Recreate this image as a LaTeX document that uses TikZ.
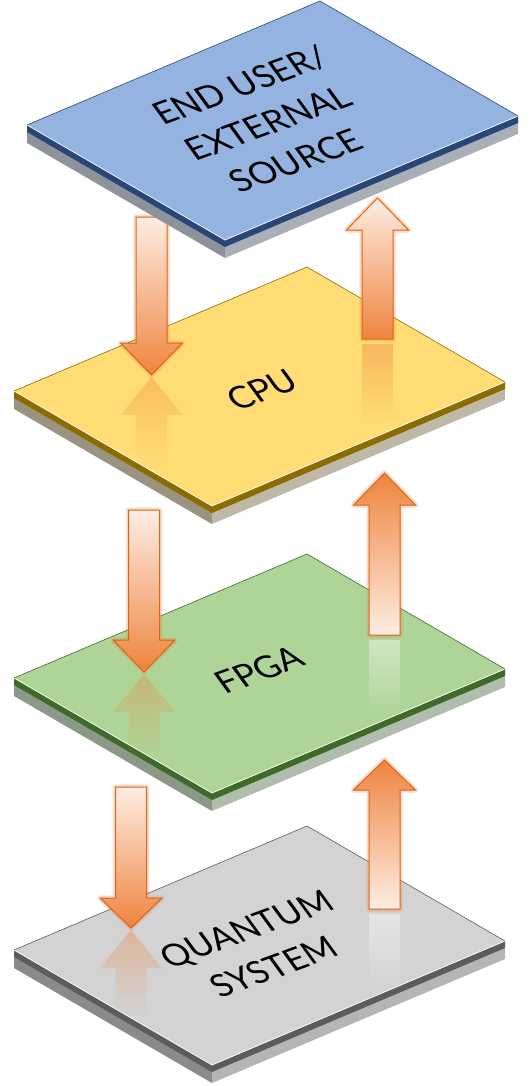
\documentclass[tikz,border=0pt]{standalone}
\usepackage{fontspec}
\setmainfont{Lato}
\usepackage{tikz}
\usetikzlibrary{positioning,shadings,fadings}

\definecolor{arrowdark}{HTML}{EF843F}
\definecolor{arrowlight}{HTML}{FDEDE3}
\definecolor{arrowline}{HTML}{D5661F}
\definecolor{bluetop}{HTML}{95B3E0}
\definecolor{blueband}{HTML}{284678}
\definecolor{bluesideL}{HTML}{8D929B}
\definecolor{bluesideR}{HTML}{AAAFB7}
\definecolor{cputop}{HTML}{FFDD74}
\definecolor{cpuband}{HTML}{8C6B00}
\definecolor{cpusideL}{HTML}{99937F}
\definecolor{cpusideR}{HTML}{BEB8A6}
\definecolor{fpgatop}{HTML}{AED597}
\definecolor{fpgaband}{HTML}{3F6A2A}
\definecolor{fpgasideL}{HTML}{8C9888}
\definecolor{fpgasideR}{HTML}{B0BCAC}
\definecolor{qtop}{HTML}{D3D3D3}
\definecolor{qband}{HTML}{5C5C5C}
\definecolor{qsideL}{HTML}{8A8A8A}
\definecolor{qsideR}{HTML}{B5B5B5}

\tikzfading[name=reflectfade, top color=transparent!40, bottom color=transparent!100]

\tikzstyle{slabtext}=[font=\fontsize{34}{47}\selectfont, align=center, text=black,
        inner sep=0pt, cm={0.94,0.342,-0.588,0.809,(0,0)}]
\tikzstyle{arrowglow}=[draw=arrowdark, draw opacity=0.3, line width=5pt, line join=round]
\tikzstyle{arrowbody}=[draw=arrowline, line width=1pt, line join=miter]

% one layer: name, top corner, top colour, edge colour, side colours
\newcommand{\slab}[6]{%
  \begin{scope}[shift={#2}]
    \fill[#5] (-293,124) -- (-95,239) -- (-95,257) -- (-293,142) -- cycle;
    \fill[#6] (-95,239) -- (198,115) -- (198,133) -- (-95,257) -- cycle;
    \fill[#4] (-293,124) -- (-95,239) -- (198,115) -- (198,122) -- (-95,246) -- (-293,131) -- cycle;
    \fill[#3] (0,0) -- (-293,124) -- (-95,239) -- (198,115) -- cycle;
    \draw[white, line width=0.7pt] (-293,124) -- (-95,239) -- (198,115);
    \draw[#4, line width=0.6pt] (-293,124) -- (0,0) -- (198,115);
    \coordinate (#1) at (0,0);
  \end{scope}}

% block arrow: centre x, tail y, head base y, tip y, top colour, bottom colour
\newcommand{\blockarrow}[6]{%
  \draw[arrowglow] (#1-15.5,#2) -- (#1-15.5,#3) -- (#1-31,#3) -- (#1,#4) -- (#1+31,#3) -- (#1+15.5,#3) -- (#1+15.5,#2) -- cycle;
  \draw[arrowbody, top color=#5, bottom color=#6] (#1-15.5,#2) -- (#1-15.5,#3) -- (#1-31,#3) -- (#1,#4) -- (#1+31,#3) -- (#1+15.5,#3) -- (#1+15.5,#2) -- cycle;}

% mirror image under a down arrow tip
\newcommand{\tipreflect}[2]{%
  \fill[arrowdark, fill opacity=0.6, path fading=reflectfade] (#1,#2+2) -- (#1+31,#2+40) -- (#1+15.5,#2+40) -- (#1+15.5,#2+88) -- (#1-15.5,#2+88) -- (#1-15.5,#2+40) -- (#1-31,#2+40) -- cycle;}

% mirror image under an up arrow tail
\newcommand{\tailreflect}[3]{%
  \fill[#3, fill opacity=0.7, path fading=reflectfade] (#1-15.5,#2+5) rectangle (#1+15.5,#2+82);}

\begin{document}
\begin{tikzpicture}[x=1pt, y=-1pt]
  \useasboundingbox (0,0) rectangle (530,1086);

  % quantum layer
  \slab{quantum}{(307,826)}{qtop}{qband}{qsideL}{qsideR}
  \node[slabtext] (quantumtext) at (260,948) {QUANTUM\\SYSTEM};
  \tipreflect{131}{928}
  \tailreflect{384.5}{909}{white}
  \blockarrow{131}{787}{898}{928}{arrowlight}{arrowdark}
  \blockarrow{384.5}{909}{790}{760}{arrowdark}{arrowlight}

  % fpga layer
  \slab{fpga}{(307,554)}{fpgatop}{fpgaband}{fpgasideL}{fpgasideR}
  \node[slabtext] (fpgatext) at (259,670) {FPGA};
  \tipreflect{144}{672}
  \tailreflect{384.5}{635}{white}
  \blockarrow{144}{510}{640}{672}{arrowlight}{arrowdark}
  \blockarrow{384.5}{635}{505}{473}{arrowdark}{arrowlight}

  % cpu layer
  \slab{cpu}{(307,267)}{cputop}{cpuband}{cpusideL}{cpusideR}
  \node[slabtext] (cputext) at (262,390) {CPU};
  \tipreflect{151.5}{375}
  \tailreflect{377.5}{339}{arrowdark}
  \blockarrow{151.5}{217}{343}{375}{arrowlight}{arrowdark}
  \blockarrow{377.5}{339}{230}{198}{arrowlight}{arrowdark}

  % end user layer
  \slab{user}{(320,1)}{bluetop}{blueband}{bluesideL}{bluesideR}
  \node[slabtext] (usertext) at (268,123) {END USER/\\EXTERNAL\\SOURCE};
\end{tikzpicture}
\end{document}
